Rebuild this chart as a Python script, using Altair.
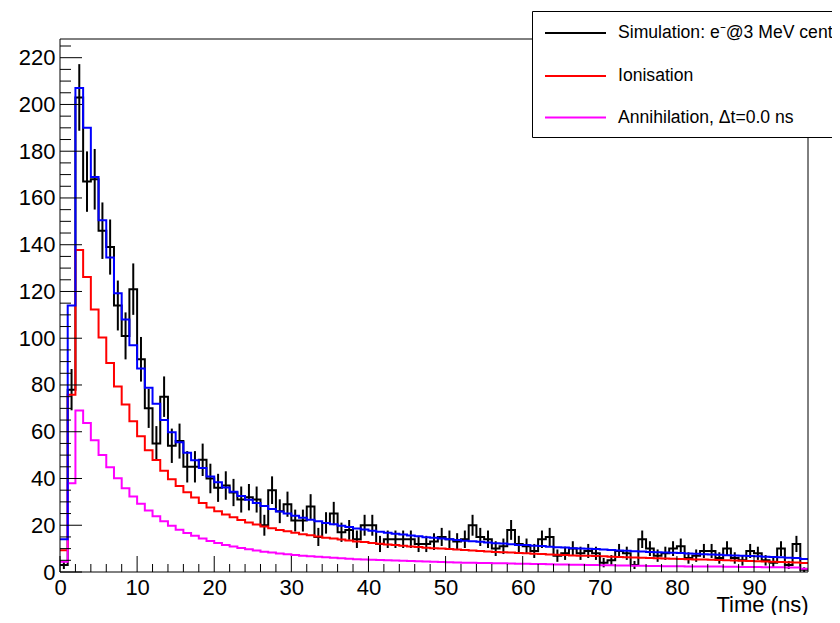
import math
import altair as alt
import pandas as pd

# ---------------- data (1 ns bins, 0..97 ns) ----------------
bin_start = list(range(97))

simulation = [3, 78, 203, 167, 168, 146, 139, 114, 101, 121,
              91, 70, 55, 75, 54, 56, 45, 45, 48, 40,
              36, 37, 34, 31, 32, 31, 20, 35, 26, 29,
              22, 22, 28, 15, 21, 25, 17, 18, 14, 20,
              20, 12, 14, 14, 14, 14, 12, 12, 13, 15,
              14, 13, 14, 20, 15, 14, 10, 11, 18, 12,
              11, 9, 14, 15, 7, 8, 10, 8, 9, 8,
              4, 5, 9, 8, 3, 14, 10, 7, 8, 10,
              11, 6, 7, 9, 9, 6, 10, 6, 5, 9,
              8, 5, 4, 10, 3, 12, 1]

ionisation = [9.3, 75.8, 137.7, 126.2, 112.3, 100.3, 89.4, 79.3, 71.7, 64.5,
              58.1, 52.1, 47.9, 43.3, 39.7, 36.8, 34.1, 31.9, 29.5, 27.6,
              26.0, 24.6, 23.4, 22.2, 21.2, 20.3, 19.5, 18.7, 18.0, 17.4,
              16.8, 16.2, 15.7, 15.2, 14.7, 14.3, 13.9, 13.5, 13.1, 12.8,
              12.4, 12.1, 11.8, 11.5, 11.2, 10.9, 10.7, 10.4, 10.2, 10.0,
              9.8, 9.6, 9.4, 9.2, 9.0, 8.8, 8.6, 8.5, 8.3, 8.1,
              8.0, 7.8, 7.7, 7.5, 7.4, 7.3, 7.1, 7.0, 6.9, 6.8,
              6.7, 6.5, 6.4, 6.3, 6.2, 6.1, 6.0, 5.9, 5.8, 5.7,
              5.6, 5.5, 5.4, 5.3, 5.2, 5.1, 5.0, 4.9, 4.8, 4.7,
              4.6, 4.5, 4.4, 4.3, 4.2, 4.1, 3.9]

annihilation = [4.4, 38.0, 69.1, 63.7, 56.4, 50.0, 44.8, 40.1, 35.8, 32.3,
                29.2, 26.3, 23.8, 21.7, 19.8, 18.1, 16.7, 15.5, 14.3, 13.3,
                12.4, 11.6, 10.9, 10.3, 9.7, 9.2, 8.7, 8.3, 7.9, 7.6,
                7.3, 7.0, 6.7, 6.5, 6.3, 6.1, 5.9, 5.7, 5.5, 5.4,
                5.2, 5.1, 5.0, 4.9, 4.8, 4.7, 4.6, 4.5, 4.4, 4.3,
                4.2, 4.1, 4.0, 4.0, 3.9, 3.8, 3.7, 3.7, 3.6, 3.5,
                3.5, 3.4, 3.4, 3.3, 3.2, 3.2, 3.1, 3.1, 3.0, 3.0,
                2.9, 2.9, 2.8, 2.8, 2.7, 2.7, 2.6, 2.6, 2.5, 2.5,
                2.5, 2.4, 2.4, 2.3, 2.3, 2.3, 2.2, 2.2, 2.1, 2.1,
                2.1, 2.0, 2.0, 2.0, 1.9, 1.9, 1.4]

total = [14.0, 114.0, 207.0, 190.0, 169.0, 150.5, 134.5, 119.2, 108.0, 97.0,
         87.0, 78.8, 72.0, 65.0, 59.8, 55.5, 51.0, 47.8, 44.5, 40.9,
         38.4, 36.2, 34.3, 32.5, 30.9, 29.5, 28.2, 27.0, 25.9, 25.0,
         24.1, 23.2, 22.4, 21.7, 21.0, 20.4, 19.8, 19.2, 18.6, 18.2,
         17.6, 17.2, 16.8, 16.4, 16.0, 15.6, 15.3, 14.9, 14.6, 14.3,
         14.0, 13.7, 13.4, 13.2, 12.9, 12.6, 12.3, 12.2, 11.9, 11.6,
         11.5, 11.2, 11.1, 10.8, 10.6, 10.5, 10.2, 10.1, 9.9, 9.8,
         9.6, 9.4, 9.2, 9.1, 8.9, 8.8, 8.6, 8.5, 8.3, 8.2,
         8.1, 7.9, 7.8, 7.6, 7.5, 7.4, 7.2, 7.1, 6.9, 6.8,
         6.7, 6.5, 6.4, 6.3, 6.1, 6.0, 5.6]

x_major = list(range(0, 91, 10))
x_minor = [v for v in range(0, 97, 2) if v % 10]
y_major = list(range(0, 221, 20))
y_minor = [v for v in range(0, 226, 5) if v % 20]

legend_labels = ["Simulation: e\u207b@3 MeV centered", "Ionisation",
                 "Annihilation, \u0394t=0.0 ns"]
legend_colors = ["#000000", "#ff0000", "#ff00ff"]
sum_color = "#0000ff"

# ---------------- layout ----------------
W, H = 748, 533
X_MAX, Y_MAX = 97, 228
FONT = "Liberation Sans"
AXFS = 22
PAD_TOP = 31
PAD_BOTTOM = 607 - PAD_TOP - H

xs = alt.Scale(domain=[0, X_MAX], nice=False, zero=False)
ys = alt.Scale(domain=[0, Y_MAX], nice=False, zero=True)

x_axis = alt.Axis(values=x_major, format="d", title="Time (ns)",
                  titleX=W, titleY=39, titleAlign="right", titleAnchor="end",
                  titleBaseline="alphabetic", titleFont=FONT, titleFontSize=AXFS,
                  titleFontWeight="normal", titleColor="black",
                  labelFont=FONT, labelFontSize=AXFS, labelColor="black",
                  labelFlush=False, labelOverlap=False, labelPadding=5,
                  ticks=False, tickSize=0, domain=False, grid=False)
y_axis = alt.Axis(values=y_major, format="d", title=None,
                  labelFont=FONT, labelFontSize=AXFS, labelColor="black",
                  labelFlush=False, labelOverlap=False, labelPadding=5,
                  ticks=False, tickSize=0, domain=False, grid=False)

X = lambda f: alt.X(f, scale=xs, axis=x_axis)
Y = lambda f: alt.Y(f, scale=ys, axis=y_axis)


def step_df(vals):
    edges = bin_start + [bin_start[-1] + 1]
    return pd.DataFrame({"t": edges, "v": list(vals) + [vals[-1]]})


def step_layer(vals, color):
    return alt.Chart(step_df(vals)).mark_line(
        interpolate="step-after", color=color, strokeWidth=2
    ).encode(x=X("t:Q"), y=Y("v:Q"))


layers = []

# simulation histogram (carries the axes) with error bars
layers.append(step_layer(simulation, "#000000"))
err_df = pd.DataFrame({
    "c": [b + 0.5 for b in bin_start],
    "lo": [max(v - math.sqrt(v), 0) for v in simulation],
    "hi": [v + math.sqrt(v) for v in simulation],
})
layers.append(alt.Chart(err_df).mark_rule(color="black", strokeWidth=2).encode(
    x=X("c:Q"), y=Y("lo:Q"), y2="hi:Q"))

# components and sum
layers.append(step_layer(ionisation, legend_colors[1]))
layers.append(step_layer(annihilation, legend_colors[2]))
layers.append(step_layer(total, sum_color))

# ticks (inside the frame, ROOT style)
layers.append(alt.Chart(pd.DataFrame({"t": x_major})).mark_rule(color="black", strokeWidth=1).encode(
    x=X("t:Q"), y=alt.value(H), y2=alt.value(H - 16)))
layers.append(alt.Chart(pd.DataFrame({"t": x_minor})).mark_rule(color="black", strokeWidth=1).encode(
    x=X("t:Q"), y=alt.value(H), y2=alt.value(H - 8)))
layers.append(alt.Chart(pd.DataFrame({"v": y_major})).mark_rule(color="black", strokeWidth=1).encode(
    y=Y("v:Q"), x=alt.value(0), x2=alt.value(22)))
layers.append(alt.Chart(pd.DataFrame({"v": y_minor})).mark_rule(color="black", strokeWidth=1).encode(
    y=Y("v:Q"), x=alt.value(0), x2=alt.value(11)))

# frame
layers.append(alt.Chart(pd.DataFrame({"f": [0]})).mark_rect(
    fillOpacity=0, stroke="black", strokeWidth=1
).encode(x=alt.value(0), x2=alt.value(W), y=alt.value(0), y2=alt.value(H)))

# legend box
layers.append(alt.Chart(pd.DataFrame({"f": [0]})).mark_rect(
    fill="white", stroke="black", strokeWidth=1
).encode(x=alt.value(472.5), x2=alt.value(800), y=alt.value(-27.5), y2=alt.value(98.5)))
legend_y = [-6, 37, 78.5]
for lab, col, yy in zip(legend_labels, legend_colors, legend_y):
    layers.append(alt.Chart(pd.DataFrame({"label": [lab]})).mark_rule(
        color=col, strokeWidth=2).encode(x=alt.value(485), x2=alt.value(546), y=alt.value(yy)))
    layers.append(alt.Chart(pd.DataFrame({"label": [lab]})).mark_text(
        align="left", baseline="middle", font=FONT, fontSize=17.6, color="black"
    ).encode(x=alt.value(558), y=alt.value(yy), text="label:N"))

chart = alt.layer(*layers).properties(
    width=W, height=H,
    padding={"left": 52, "top": PAD_TOP, "right": 24, "bottom": PAD_BOTTOM},
    autosize=alt.AutoSizeParams(type="none"),
    background="white",
).configure_view(stroke=None)

chart.save("out.html", embed_options={"renderer": "svg", "actions": False})
